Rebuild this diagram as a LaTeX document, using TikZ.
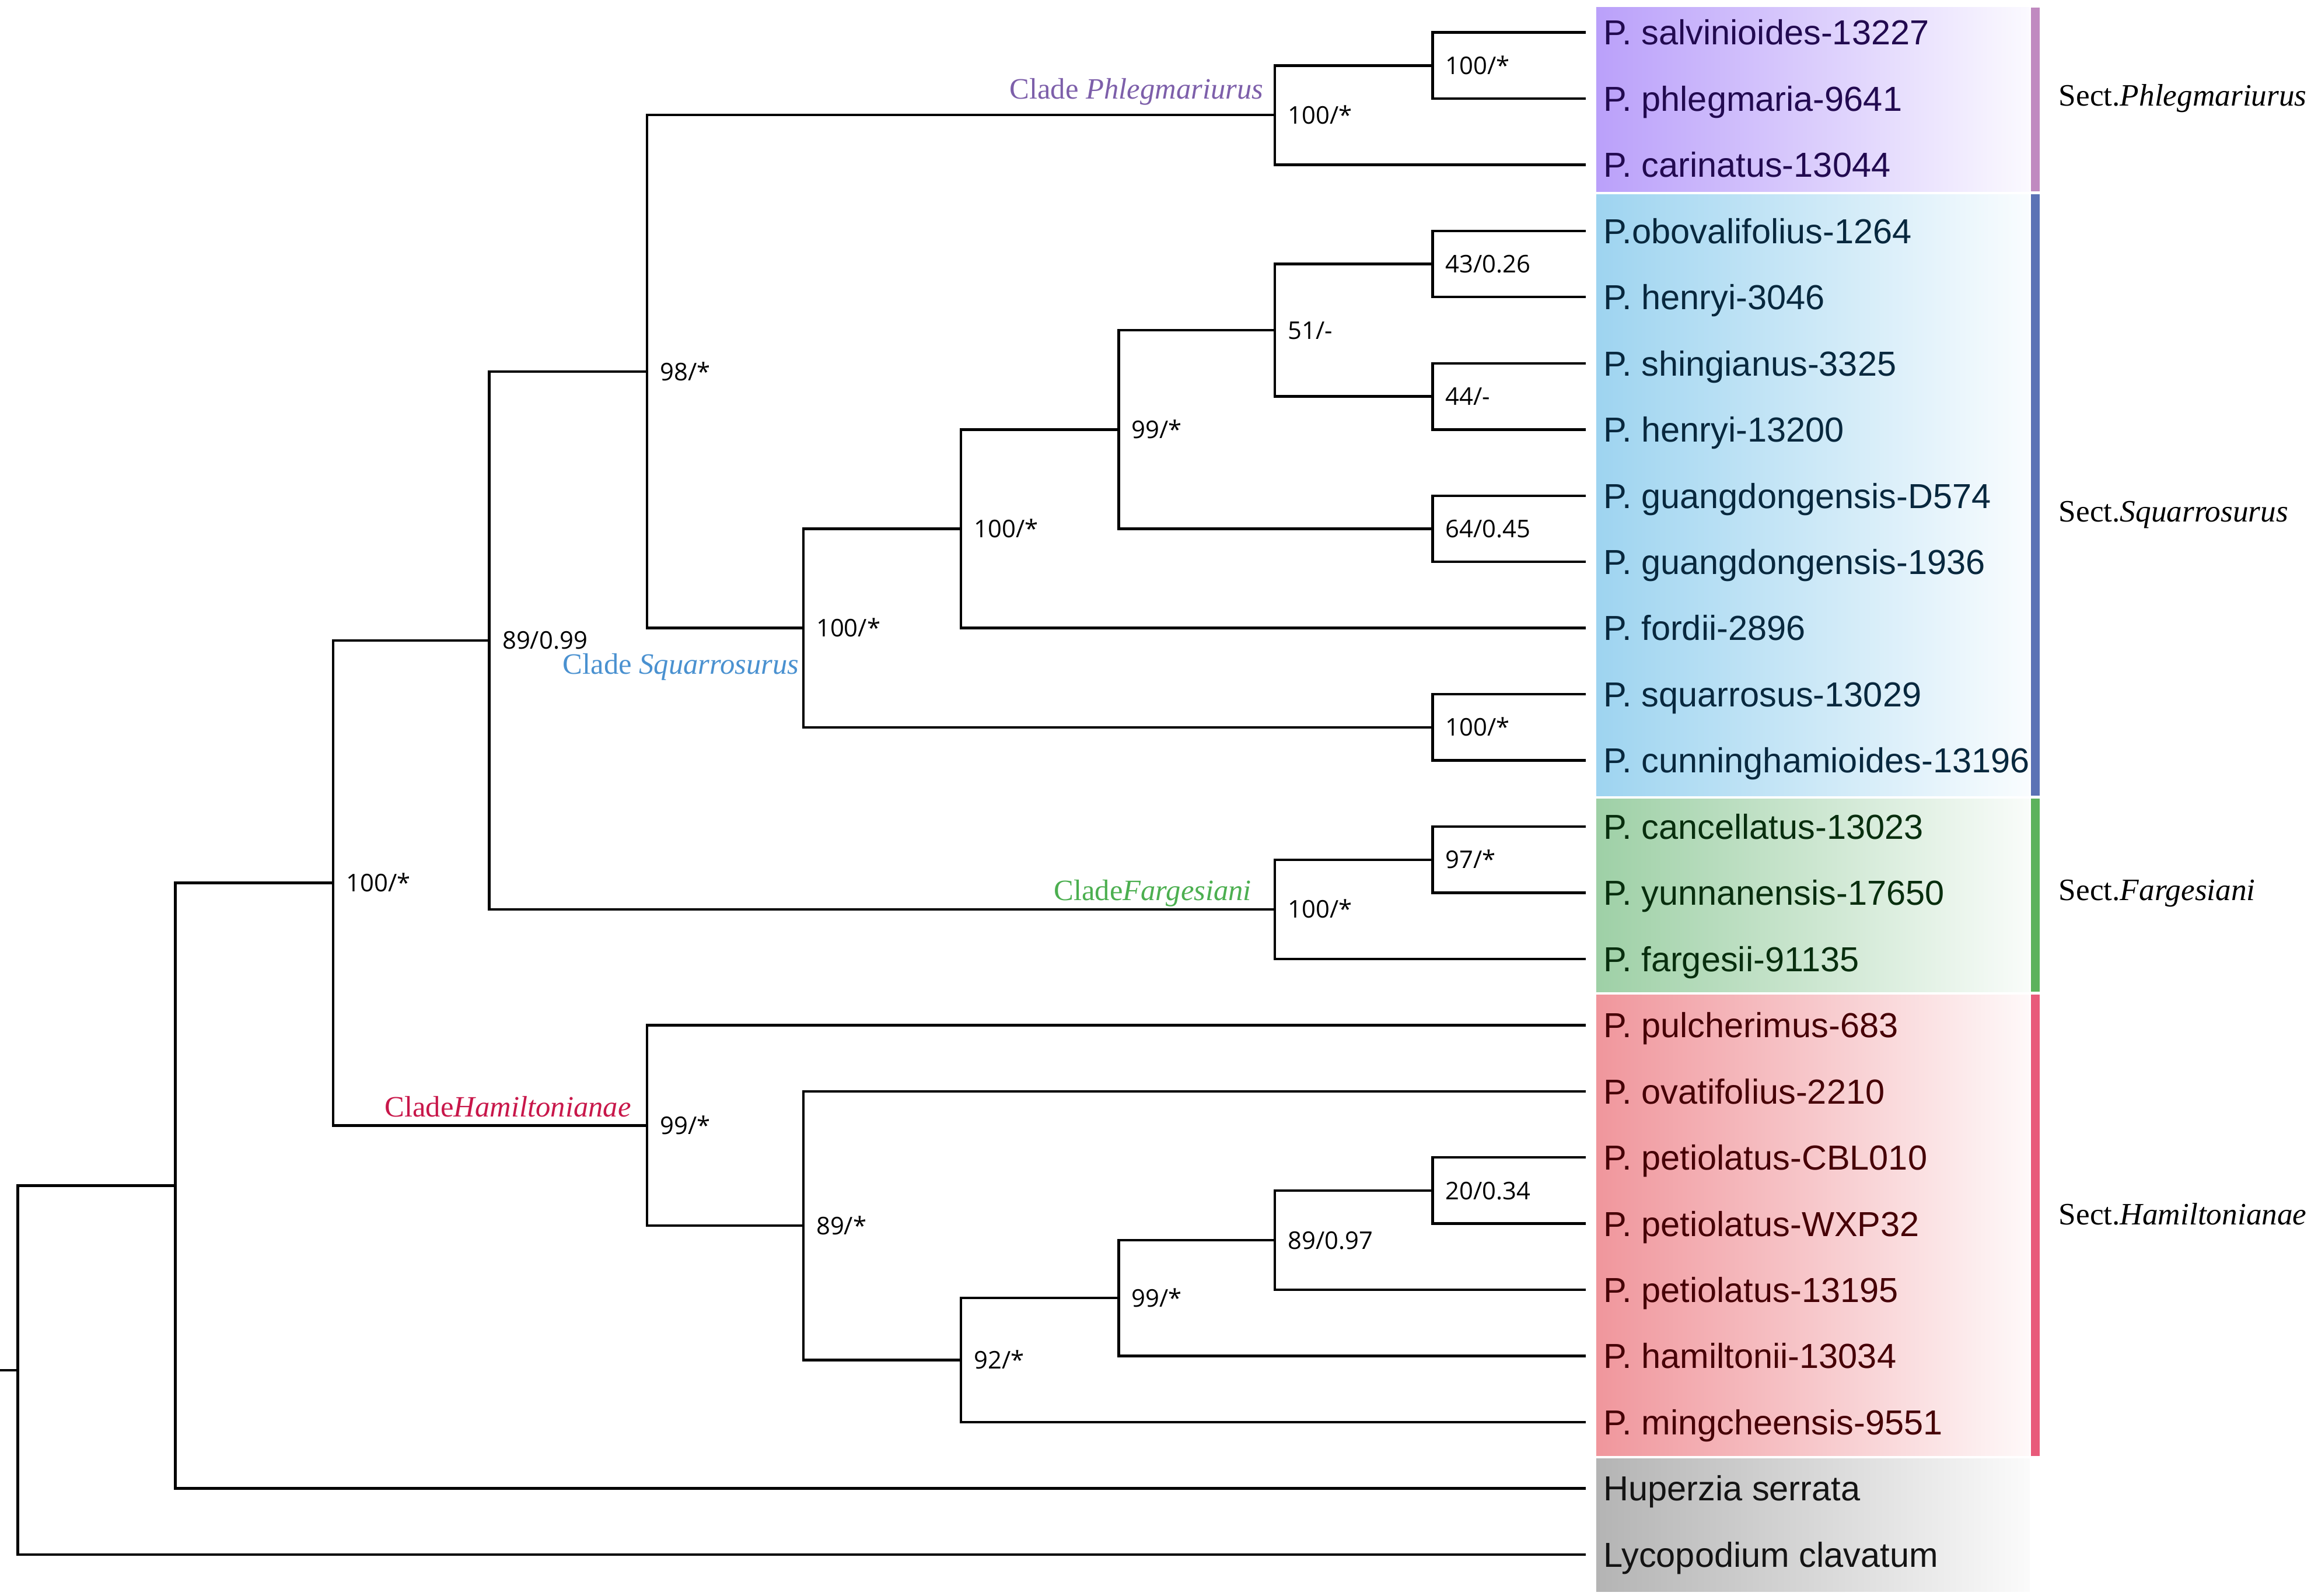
\documentclass[tikz,border=0pt]{standalone}
\usepackage{fontspec}
\usepackage{xcolor}
\usepackage{tikz}
\setmainfont{Liberation Serif}
\newfontfamily\leaffont{Liberation Sans}
\newfontfamily\bsfont{Open Sans}

\definecolor{phlBox}{RGB}{186,160,250}
\definecolor{sqBox}{RGB}{158,212,240}
\definecolor{farBox}{RGB}{158,208,166}
\definecolor{hamBox}{RGB}{240,150,156}
\definecolor{outBox}{RGB}{180,180,180}
\definecolor{phlBar}{RGB}{192,138,192}
\definecolor{sqBar}{RGB}{91,114,181}
\definecolor{farBar}{RGB}{92,178,92}
\definecolor{hamBar}{RGB}{232,90,122}
\definecolor{phlTxt}{RGB}{34,10,80}
\definecolor{sqTxt}{RGB}{8,40,62}
\definecolor{farTxt}{RGB}{8,46,14}
\definecolor{hamTxt}{RGB}{70,0,6}
\definecolor{phlLab}{RGB}{125,95,170}
\definecolor{sqLab}{RGB}{74,145,208}
\definecolor{farLab}{RGB}{76,175,80}
\definecolor{hamLab}{RGB}{200,23,74}

\begin{document}
\begin{tikzpicture}[x=0.01cm, y=-0.01cm, line width=0.5pt,
  leaf/.style={anchor=west, inner sep=0pt, inner xsep=0.05cm, outer xsep=0.07cm,
    font=\leaffont\fontsize{6.7}{7}\selectfont, text height=4.8pt, text depth=0pt},
  bs/.style={label distance=0.08cm, inner sep=0pt,
    font=\bsfont\fontsize{4.7}{5}\selectfont, text height=3.4pt, text depth=0pt},
  clade/.style={anchor=base east, inner sep=0pt, font=\fontsize{5.7}{6}\selectfont},
  sect/.style={anchor=base west, inner sep=0pt, font=\fontsize{6}{7}\selectfont}]
\useasboundingbox (0,0) rectangle (1568,1083);

% Boxes
\shade[left color=phlBox, right color=phlBox!6!white] (1083,5) rectangle (1377,130);
\shade[left color=sqBox, right color=sqBox!6!white] (1083,132) rectangle (1377,540);
\shade[left color=farBox, right color=farBox!6!white] (1083,542) rectangle (1377,673);
\shade[left color=hamBox, right color=hamBox!6!white] (1083,675) rectangle (1377,988);
\shade[left color=outBox, right color=outBox!6!white] (1083,990) rectangle (1377,1080);
\fill[phlBar] (1378,5) rectangle (1384,130);
\fill[sqBar] (1378,132) rectangle (1384,540);
\fill[farBar] (1378,542) rectangle (1384,673);
\fill[hamBar] (1378,675) rectangle (1384,988);

% Points
\node[leaf, text=phlTxt] (t1) at (1076,22) {P. salvinioides-13227};
\node[leaf, text=phlTxt] (t2) at (1076,66.9) {P. phlegmaria-9641};
\node[leaf, text=phlTxt] (t3) at (1076,111.8) {P. carinatus-13044};
\node[leaf, text=sqTxt] (t4) at (1076,156.7) {P.obovalifolius-1264};
\node[leaf, text=sqTxt] (t5) at (1076,201.6) {P. henryi-3046};
\node[leaf, text=sqTxt] (t6) at (1076,246.6) {P. shingianus-3325};
\node[leaf, text=sqTxt] (t7) at (1076,291.5) {P. henryi-13200};
\node[leaf, text=sqTxt] (t8) at (1076,336.4) {P. guangdongensis-D574};
\node[leaf, text=sqTxt] (t9) at (1076,381.3) {P. guangdongensis-1936};
\node[leaf, text=sqTxt] (t10) at (1076,426.2) {P. fordii-2896};
\node[leaf, text=sqTxt] (t11) at (1076,471.1) {P. squarrosus-13029};
\node[leaf, text=sqTxt] (t12) at (1076,516) {P. cunninghamioides-13196};
\node[leaf, text=farTxt] (t13) at (1076,560.9) {P. cancellatus-13023};
\node[leaf, text=farTxt] (t14) at (1076,605.8) {P. yunnanensis-17650};
\node[leaf, text=farTxt] (t15) at (1076,650.8) {P. fargesii-91135};
\node[leaf, text=hamTxt] (t16) at (1076,695.7) {P. pulcherimus-683};
\node[leaf, text=hamTxt] (t17) at (1076,740.6) {P. ovatifolius-2210};
\node[leaf, text=hamTxt] (t18) at (1076,785.5) {P. petiolatus-CBL010};
\node[leaf, text=hamTxt] (t19) at (1076,830.4) {P. petiolatus-WXP32};
\node[leaf, text=hamTxt] (t20) at (1076,875.3) {P. petiolatus-13195};
\node[leaf, text=hamTxt] (t21) at (1076,920.2) {P. hamiltonii-13034};
\node[leaf, text=hamTxt] (t22) at (1076,965.1) {P. mingcheensis-9551};
\node[leaf, text=black!92] (t23) at (1076,1010) {Huperzia serrata};
\node[leaf, text=black!92] (t24) at (1076,1055) {Lycopodium clavatum};

% Inner nodes
\coordinate (stub) at (0,929.8);
\coordinate (r) at (12,929.8);
\coordinate (a) at (119,804.6);
\coordinate[label={[bs]0:100/*}] (b) at (226,599.2);
\coordinate[label={[bs]0:89/0.99}] (c) at (332,434.6);
\coordinate[label={[bs]0:98/*}] (d) at (439,252.2);
\coordinate[label={[bs]0:100/*}] (e) at (865,78.1);
\coordinate[label={[bs]0:100/*}] (f) at (972,44.5);
\coordinate[label={[bs]0:100/*}] (g) at (545,426.2);
\coordinate[label={[bs]0:100/*}] (h) at (652,358.9);
\coordinate[label={[bs]0:99/*}] (i) at (759,291.5);
\coordinate[label={[bs]0:51/-}] (j) at (865,224.1);
\coordinate[label={[bs]0:43/0.26}] (k) at (972,179.2);
\coordinate[label={[bs]0:44/-}] (l) at (972,269);
\coordinate[label={[bs]0:64/0.45}] (m) at (972,358.9);
\coordinate[label={[bs]0:100/*}] (n) at (972,493.6);
\coordinate[label={[bs]0:100/*}] (o) at (865,617.1);
\coordinate[label={[bs]0:97/*}] (p) at (972,583.4);
\coordinate[label={[bs]0:99/*}] (q) at (439,763.8);
\coordinate[label={[bs]0:89/*}] (rr) at (545,831.8);
\coordinate[label={[bs]0:92/*}] (s) at (652,923);
\coordinate[label={[bs]0:99/*}] (t) at (759,880.9);
\coordinate[label={[bs]0:89/0.97}] (u) at (865,841.6);
\coordinate[label={[bs]0:20/0.34}] (v) at (972,808);

% Clades and sections
\node[clade, text=phlLab] (cl1) at (858,67) {Clade \textit{Phlegmariurus}};
\node[clade, text=sqLab] (cl2) at (543,457.5) {Clade \textit{Squarrosurus}};
\node[clade, text=farLab] (cl3) at (850,611) {Clade\textit{Fargesiani}};
\node[clade, text=hamLab] (cl4) at (429,758) {Clade\textit{Hamiltonianae}};
\node[sect] (s1) at (1396,72) {Sect.\textit{Phlegmariurus}};
\node[sect] (s2) at (1396,354) {Sect.\textit{Squarrosurus}};
\node[sect] (s3) at (1396,611) {Sect.\textit{Fargesiani}};
\node[sect] (s4) at (1396,831) {Sect.\textit{Hamiltonianae}};

%Lines
\draw (stub) -- (r);
\draw (r) |- (a);
\draw (r) |- (t24);
\draw (a) |- (b);
\draw (a) |- (t23);
\draw (b) |- (c);
\draw (b) |- (q);
\draw (c) |- (d);
\draw (c) |- (o);
\draw (d) |- (e);
\draw (d) |- (g);
\draw (e) |- (f);
\draw (e) |- (t3);
\draw (f) |- (t1);
\draw (f) |- (t2);
\draw (g) |- (h);
\draw (g) |- (n);
\draw (h) |- (i);
\draw (h) |- (t10);
\draw (i) |- (j);
\draw (i) |- (m);
\draw (j) |- (k);
\draw (j) |- (l);
\draw (k) |- (t4);
\draw (k) |- (t5);
\draw (l) |- (t6);
\draw (l) |- (t7);
\draw (m) |- (t8);
\draw (m) |- (t9);
\draw (n) |- (t11);
\draw (n) |- (t12);
\draw (o) |- (p);
\draw (o) |- (t15);
\draw (p) |- (t13);
\draw (p) |- (t14);
\draw (q) |- (t16);
\draw (q) |- (rr);
\draw (rr) |- (t17);
\draw (rr) |- (s);
\draw (s) |- (t);
\draw (s) |- (t22);
\draw (t) |- (u);
\draw (t) |- (t21);
\draw (u) |- (v);
\draw (u) |- (t20);
\draw (v) |- (t18);
\draw (v) |- (t19);
\end{tikzpicture}
\end{document}
